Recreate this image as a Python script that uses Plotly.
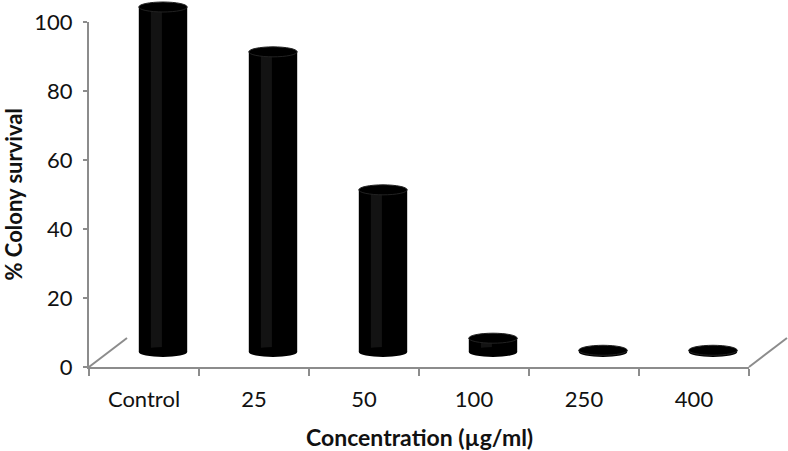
import plotly.graph_objects as go

categories = ["Control", "25", "50", "100", "250", "400"]
survival = [100, 87, 47, 4, 0.5, 0.5]
y_ticks = [0, 20, 40, 60, 80, 100]

W, H = 788, 451
L, R, T, B = 89, 0, 0, 84
pw = W - L - R
ph = H - T - B
front_w = 660
front_h = 345
dx, dy = 19, 15
scale = front_h / 100.0
ell = 5 / scale
bw = 0.44
axis_col = "#8c8c8c"
font_fam = "Lato, 'Open Sans', sans-serif"

idx = list(range(len(categories)))

fig = go.Figure()
fig.add_trace(go.Scatter(x=categories, y=[0] * len(categories), xaxis="x", yaxis="y",
                         mode="markers", marker=dict(opacity=0), showlegend=False, hoverinfo="skip"))
fig.add_trace(go.Bar(x=idx, y=survival, xaxis="x2", yaxis="y2", width=bw,
                     marker=dict(color="black", line_width=0), showlegend=False))
fig.add_trace(go.Bar(x=idx, y=survival, xaxis="x2", yaxis="y2", width=0.1, offset=-0.11,
                     marker=dict(color="#131313", line_width=0), showlegend=False))

shapes = []
for i, v in zip(idx, survival):
    shapes.append(dict(type="circle", xref="x2", yref="y2", x0=i - bw / 2, x1=i + bw / 2,
                       y0=-ell, y1=ell, fillcolor="black", line=dict(width=0), layer="above"))
    shapes.append(dict(type="circle", xref="x2", yref="y2", x0=i - bw / 2, x1=i + bw / 2,
                       y0=v - ell, y1=v + ell, fillcolor="black", line=dict(color="#222", width=1), layer="above"))

shapes.append(dict(type="line", xref="paper", yref="paper", x0=0, y0=0, x1=38 / pw, y1=29 / ph,
                   line=dict(color=axis_col, width=2)))
shapes.append(dict(type="line", xref="paper", yref="paper", x0=front_w / pw, y0=0,
                   x1=(front_w + 38) / pw, y1=29 / ph, line=dict(color=axis_col, width=2)))

fig.update_layout(
    width=W, height=H,
    margin=dict(l=L, r=R, t=T, b=B, autoexpand=False),
    plot_bgcolor="white", paper_bgcolor="white",
    barmode="overlay",
    showlegend=False,
    font=dict(family=font_fam, size=22, color="#111"),
    shapes=shapes,
    xaxis=dict(domain=[0, front_w / pw], anchor="y", type="category", range=[-0.5, 5.5],
               showline=True, linecolor=axis_col, linewidth=2, ticks="outside", tickson="boundaries",
               ticklen=7, tickwidth=2, tickcolor=axis_col, showgrid=False, zeroline=False,
               ticklabelstandoff=12, tickfont=dict(size=22, color="#111")),
    yaxis=dict(domain=[0, front_h / ph], anchor="x", range=[0, 100], tickvals=y_ticks,
               showline=True, linecolor=axis_col, linewidth=2, ticks="outside", ticklen=4, tickwidth=2,
               tickcolor=axis_col, showgrid=False, zeroline=False, ticklabelstandoff=6,
               tickfont=dict(size=22, color="#111")),
    xaxis2=dict(domain=[dx / pw, (dx + front_w) / pw], anchor="y2", range=[-0.5, 5.5], visible=False),
    yaxis2=dict(domain=[0, 1], anchor="x2", range=[-dy / scale, (ph - dy) / scale], visible=False),
    annotations=[
        dict(text="<b>% Colony survival</b>", xref="paper", yref="paper", x=0, y=front_h / ph / 2,
             xshift=-76, textangle=-90, showarrow=False, xanchor="center", yanchor="middle",
             font=dict(size=22, color="#111")),
        dict(text="<b>Concentration (µg/ml)</b>", xref="paper", yref="paper", x=front_w / pw / 2, y=0,
             yshift=-70, showarrow=False, xanchor="center", yanchor="middle",
             font=dict(size=23, color="#111")),
    ],
)

fig.write_html("out.html", config={"displayModeBar": False},
               post_script="document.body.style.margin='0';document.body.style.overflow='hidden';")
